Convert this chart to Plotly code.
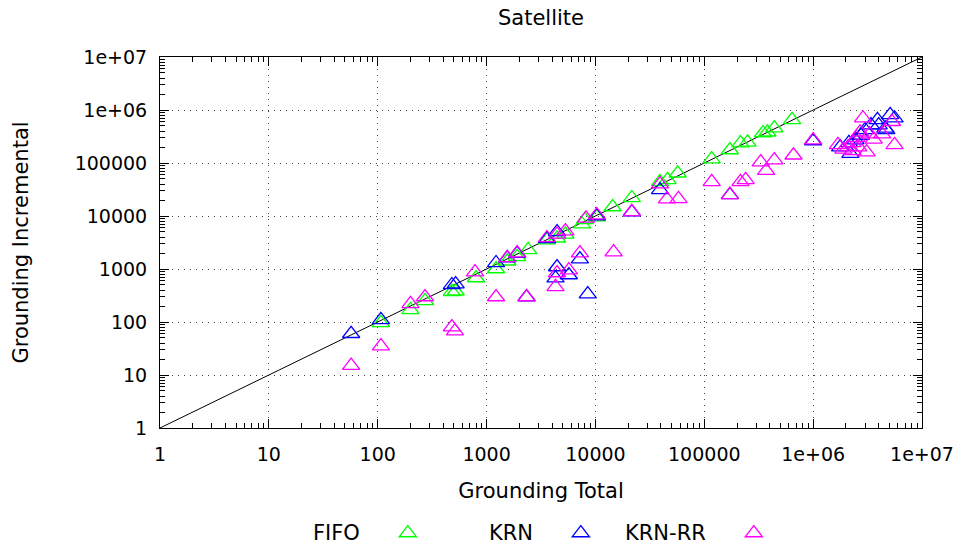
import plotly.graph_objects as go

TICK_VALS = [1, 10, 100, 1000, 10000, 100000, 1000000, 10000000]
TICK_TEXT = ["1", "10", "100", "1000", "10000", "100000", "1e+06", "1e+07"]

FIFO_X = [107, 200, 272, 480, 520, 800, 1222, 1550, 1910, 2410, 3590, 4440, 5300, 7530, 8000,
          10300, 14400, 21600, 39200, 46000, 57000, 117000, 172000, 215000, 250000, 346000,
          380000, 440000, 640000]
FIFO_Y = [96, 170, 250, 370, 380, 676, 1000, 1400, 1700, 2300, 3500, 3800, 4500, 7000, 8500,
          9500, 14800, 21900, 44000, 48000, 64000, 118000, 176000, 237000, 245000, 368000,
          380000, 455000, 650000]

KRN_X = [57, 107, 480, 520, 1222, 1550, 1910, 2330, 3590, 4440, 4440, 4300, 5700, 7200, 8500,
         10300, 21600, 39200, 172000, 1000000, 1770000, 2130000, 2450000, 2750000, 3000000,
         3400000, 3900000, 4000000, 4600000, 5100000, 5600000, 4700000, 2200000]
KRN_Y = [60, 110, 500, 520, 1300, 1600, 1950, 296, 3700, 5000, 1090, 670, 770, 1540, 337,
         10000, 11900, 31000, 25000, 260000, 200000, 240000, 270000, 330000, 420000,
         520000, 650000, 520000, 450000, 810000, 700000, 420000, 150000]

RR_X = [57, 107, 200, 272, 480, 512, 783, 1222, 1550, 1910, 2330, 3590, 4440, 5300, 8200,
        10300, 4440, 4300, 5700, 7200, 14700, 21600, 39200, 45400, 58000, 117000, 172000,
        215000, 240000, 330000, 370000, 440000, 660000, 1000000, 1690000, 2870000, 5600000,
        3100000, 1900000, 2100000, 2300000, 2500000, 2700000, 2300000, 3300000, 3600000,
        4300000, 5300000, 2600000]
RR_Y = [15, 35, 220, 296, 80, 67, 875, 296, 1620, 2000, 296, 3850, 4500, 5200, 9000,
        10400, 840, 460, 950, 2000, 2080, 12000, 40000, 20900, 21000, 44000, 25000,
        44000, 48000, 104000, 72000, 113000, 140000, 270000, 220000, 700000, 220000,
        160000, 180000, 200000, 240000, 300000, 380000, 170000, 350000, 280000,
        350000, 600000, 200000]

DIAG = [1, 10000000]

SERIES = [("FIFO", FIFO_X, FIFO_Y, "#00ff00"),
          ("KRN", KRN_X, KRN_Y, "#0000ff"),
          ("KRN-RR", RR_X, RR_Y, "#ff00ff")]

FONT = "DejaVu Sans"
FS_TICK = 19
FS = 21

fig = go.Figure()
fig.add_trace(go.Scatter(x=DIAG, y=DIAG, mode="lines", line=dict(color="black", width=1),
                         showlegend=False, hoverinfo="skip"))
for name, xs, ys, col in SERIES:
    fig.add_trace(go.Scatter(
        x=xs, y=ys, mode="markers", name=name,
        marker=dict(symbol="triangle-up-open", size=15, color=col,
                    line=dict(color=col, width=1.3)),
    ))

minor_vals = [m * 10 ** k for k in range(0, 7) for m in range(2, 10)]

axis_common = dict(
    type="log", range=[0, 7], tickvals=TICK_VALS, ticktext=TICK_TEXT,
    showline=True, linecolor="black", linewidth=1, mirror="allticks",
    ticks="inside", ticklen=9, tickcolor="black", tickwidth=1,
    minor=dict(tickvals=minor_vals, ticks="inside", ticklen=5, tickcolor="black",
               showgrid=False),
    showgrid=True, gridcolor="#444444", griddash="1px,5px", gridwidth=1,
    zeroline=False,
    tickfont=dict(family=FONT, size=FS_TICK, color="black"),
)

fig.update_layout(
    width=965, height=547,
    margin=dict(l=160, r=43, t=57, b=119, autoexpand=False),
    plot_bgcolor="white", paper_bgcolor="white",
    font=dict(family=FONT, size=FS, color="black"),
    title=dict(text="Satellite", x=0.5, xref="paper", y=1 - 18 / 547, yanchor="middle",
               font=dict(family=FONT, size=FS, color="black")),
    xaxis=dict(**axis_common,
               title=dict(text="Grounding Total", standoff=19,
                          font=dict(family=FONT, size=FS, color="black")),
               ticklabelstandoff=9),
    yaxis=dict(**axis_common,
               title=dict(text="Grounding Incremental", standoff=40,
                          font=dict(family=FONT, size=FS, color="black")),
               ticklabelstandoff=8),
    showlegend=True,
    legend=dict(orientation="h", x=0.299, xanchor="left", y=-0.283, yanchor="middle",
                entrywidth=128, entrywidthmode="pixels",
                font=dict(family=FONT, size=1, color="rgba(0,0,0,0)"),
                bgcolor="rgba(0,0,0,0)"),
)

LEG_LABEL_X = [0.265, 0.492, 0.719]
for (name, _, _, _), lx in zip(SERIES, LEG_LABEL_X):
    fig.add_annotation(text=name, x=lx, y=-0.283, xref="paper", yref="paper",
                       xanchor="right", yanchor="middle", showarrow=False,
                       font=dict(family=FONT, size=FS, color="black"))

fig.write_html("out.html")
